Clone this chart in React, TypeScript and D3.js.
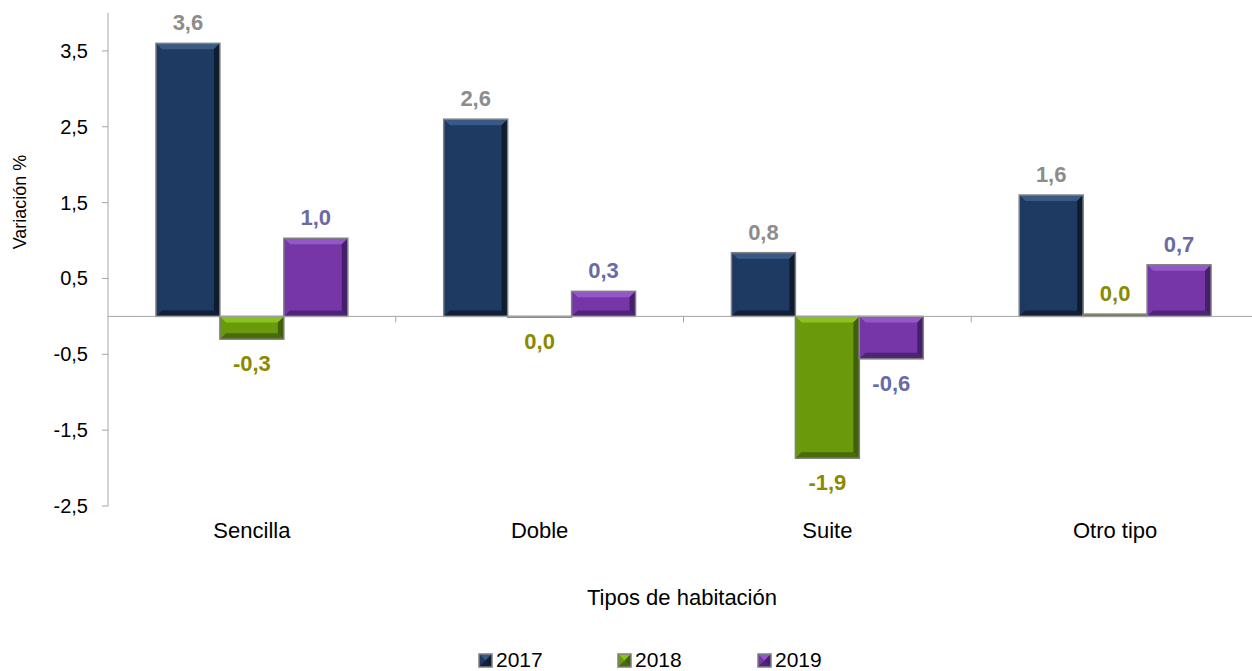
import React from "react";
import * as d3 from "d3";

const categories = ["Sencilla", "Doble", "Suite", "Otro tipo"];
const seriesNames = ["2017", "2018", "2019"];
const values2017 = [3.6, 2.6, 0.84, 1.6];
const values2018 = [-0.3, -0.01, -1.87, 0.03];
const values2019 = [1.03, 0.33, -0.56, 0.68];
const yTicks = [3.5, 2.5, 1.5, 0.5, -0.5, -1.5, -2.5];

const seriesValues = [values2017, values2018, values2019];
const barColors = ["#1E3A62", "#6A9A0C", "#7636A8"];
const lightColors = ["#3A5A86", "#8CC21E", "#9458C6"];
const darkColors = ["#0E1C30", "#40600A", "#44206A"];
const labelColors = ["#8C8C8C", "#8A8A00", "#6A6AA6"];

const W = 1252;
const H = 671;
const FONT = "'Liberation Sans', Arial, sans-serif";

function fmt(v: number) {
  return v.toFixed(1).replace(".", ",").replace("-0,0", "0,0");
}

function BevelRect({ x, y, w, h, i }: { x: number; y: number; w: number; h: number; i: number }) {
  const b = Math.max(0, Math.min(6, h / 2, w / 2));
  const p = (pts: number[][]) => pts.map((q) => q.join(",")).join(" ");
  return (
    <g>
      <rect x={x} y={y} width={w} height={h} fill={barColors[i]} />
      {b > 0.5 && (
        <>
          <polygon points={p([[x, y], [x + w, y], [x + w - b, y + b], [x + b, y + b]])} fill={lightColors[i]} />
          <polygon points={p([[x, y], [x + b, y + b], [x + b, y + h - b], [x, y + h]])} fill={barColors[i]} opacity={0.9} />
          <polygon points={p([[x + w, y], [x + w, y + h], [x + w - b, y + h - b], [x + w - b, y + b]])} fill={darkColors[i]} />
          <polygon points={p([[x, y + h], [x + w, y + h], [x + w - b, y + h - b], [x + b, y + h - b]])} fill={darkColors[i]} opacity={0.8} />
        </>
      )}
      <rect x={x} y={y} width={w} height={Math.max(h, 0.5)} fill="none" stroke="#808080" strokeWidth={1.5} />
    </g>
  );
}

export default function App() {
  const plotLeft = 108;
  const x0 = d3.scaleBand<string>().domain(categories).range([plotLeft, 1259]).paddingInner(0).paddingOuter(0);
  const x1 = d3.scaleBand<string>().domain(seriesNames).range([0, x0.bandwidth()]).paddingInner(0).paddingOuter(0.75);
  const y = d3.scaleLinear().domain([-2.5, 4.0]).range([506, 13]);
  const zeroY = y(0);

  return (
    <svg width={W} height={H} style={{ position: "absolute", left: 0, top: 0, background: "#fff" }} fontFamily={FONT}>
      {/* y axis */}
      <line x1={plotLeft} x2={plotLeft} y1={y(4.0)} y2={y(-2.5)} stroke="#A6A6A6" strokeWidth={1} />
      {yTicks.map((t) => (
        <g key={t}>
          <line x1={plotLeft - 6} x2={plotLeft} y1={y(t)} y2={y(t)} stroke="#A6A6A6" />
          <text x={plotLeft - 20} y={y(t)} dy="0.35em" textAnchor="end" fontSize={20} fill="#000">
            {fmt(t)}
          </text>
        </g>
      ))}
      <text transform={`translate(26,${202}) rotate(-90)`} textAnchor="middle" fontSize={18} fill="#000">
        Variación %
      </text>

      {/* bars */}
      {categories.map((c, ci) =>
        seriesNames.map((s, si) => {
          const v = seriesValues[si][ci];
          const bx = (x0(c) as number) + (x1(s) as number);
          const bw = x1.bandwidth();
          const top = Math.min(y(v), zeroY);
          const h = Math.abs(y(v) - zeroY);
          const ly = v >= 0 ? y(v) - 13 : y(v) + 32;
          return (
            <g key={c + s}>
              <BevelRect x={bx} y={top} w={bw} h={h} i={si} />
              <text x={bx + bw / 2} y={ly} textAnchor="middle" fontSize={22} fontWeight="bold" fill={labelColors[si]}>
                {fmt(v)}
              </text>
            </g>
          );
        })
      )}

      {/* x axis */}
      <line x1={plotLeft} x2={W} y1={zeroY} y2={zeroY} stroke="#A6A6A6" strokeWidth={1} />
      {categories.slice(1).map((c) => (
        <line key={c} x1={x0(c) as number} x2={x0(c) as number} y1={zeroY} y2={zeroY + 6} stroke="#A6A6A6" />
      ))}
      {categories.map((c) => (
        <text key={c} x={(x0(c) as number) + x0.bandwidth() / 2} y={538} textAnchor="middle" fontSize={22} fill="#000">
          {c}
        </text>
      ))}
      <text x={682} y={605} textAnchor="middle" fontSize={22} fill="#000">
        Tipos de habitación
      </text>

      {/* legend */}
      {seriesNames.map((s, si) => {
        const lx = [479, 618, 758][si];
        return (
          <g key={s}>
            <BevelRect x={lx} y={654} w={13} h={13} i={si} />
            <text x={lx + 17} y={667} fontSize={21} fill="#000">
              {s}
            </text>
          </g>
        );
      })}
    </svg>
  );
}
